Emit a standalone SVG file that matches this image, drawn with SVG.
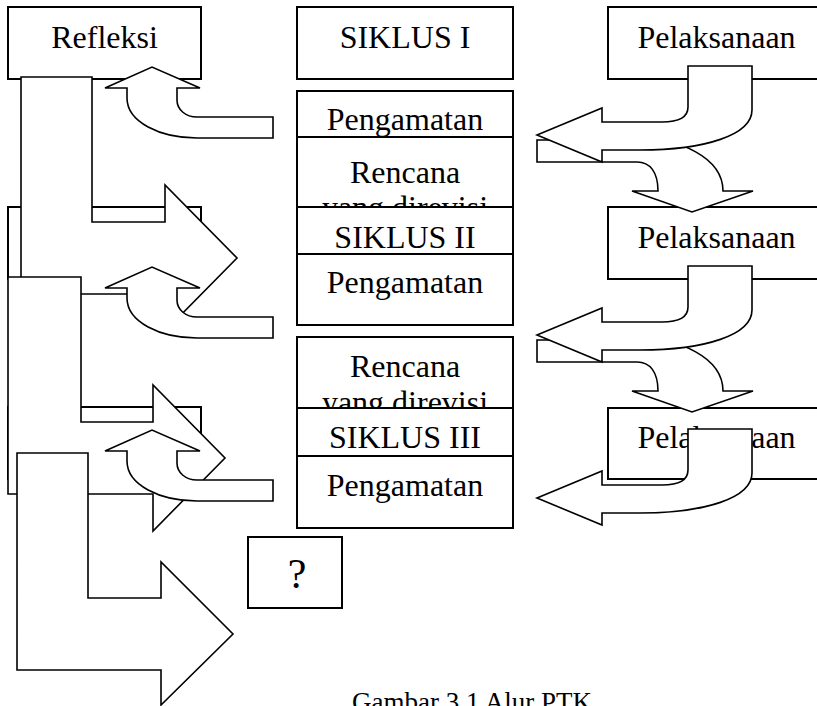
<svg xmlns="http://www.w3.org/2000/svg" width="817" height="706" viewBox="0 0 817 706">
<style>
.box{fill:#fff;stroke:#000;stroke-width:2}
.arr{fill:#fff;stroke:#000;stroke-width:1.6;stroke-linejoin:miter}
.t{font-family:"Liberation Serif","Times New Roman",serif;font-size:32px;fill:#000;text-anchor:middle}
</style>
<defs>
<path id="curvedUp" d="M273,117 L197,117 C186,117 177,110 177,100 L177,88 L200,88 L152,67 L105,88 L127,88 L127,98 C127,122 160,138 197,138 L273,138 Z"/>
<path id="curvedLeft" d="M688,66 L752,66 L752,110 C752,135 705,150 640,150 L602,150 L602,162 L537,135 L602,108 L602,122 L662,122 C680,122 688,117 688,107 Z"/>
<path id="curvedDown" d="M537,140 L537,162 L637,162 C650,162 658,172 658,191 L632,191 L692,212 L753,191 L723,191 C723,158 680,137 630,137 L602,140 Z"/>
</defs>
<rect width="817" height="706" fill="#fff"/>
<g id="nodes">
<g id="refleksi1"><rect class="box" x="8" y="7" width="193" height="72"/><text class="t" x="104.5" y="48">Refleksi</text></g>
<g id="refleksi2"><rect class="box" x="8" y="207" width="193" height="72"/></g>
<g id="refleksi3"><rect class="box" x="8" y="407" width="193" height="72"/></g>
<g id="siklus1"><rect class="box" x="297" y="7" width="216" height="72"/><text class="t" x="405" y="48">SIKLUS I</text></g>
<g id="pengamatan1"><rect class="box" x="297" y="91" width="216" height="70"/><text class="t" x="405" y="130">Pengamatan</text></g>
<g id="rencana1"><rect class="box" x="297" y="137" width="216" height="90"/><text class="t" x="405" y="183">Rencana</text><text class="t" x="405" y="218">yang direvisi</text></g>
<g id="siklus2"><rect class="box" x="297" y="207" width="216" height="60"/><text class="t" x="405" y="248">SIKLUS II</text></g>
<g id="pengamatan2"><rect class="box" x="297" y="254" width="216" height="71"/><text class="t" x="405" y="293">Pengamatan</text></g>
<g id="rencana2"><rect class="box" x="297" y="337" width="216" height="90"/><text class="t" x="405" y="377">Rencana</text><text class="t" x="405" y="413">yang direvisi</text></g>
<g id="siklus3"><rect class="box" x="297" y="408" width="216" height="60"/><text class="t" x="405" y="448">SIKLUS III</text></g>
<g id="pengamatan3"><rect class="box" x="297" y="456" width="216" height="72"/><text class="t" x="405" y="496">Pengamatan</text></g>
<g id="pelaksanaan1"><rect class="box" x="608" y="7" width="217" height="72"/><text class="t" x="716.5" y="48">Pelaksanaan</text></g>
<g id="pelaksanaan2"><rect class="box" x="608" y="207" width="217" height="72"/><text class="t" x="716.5" y="248">Pelaksanaan</text></g>
<g id="pelaksanaan3"><rect class="box" x="608" y="408" width="217" height="71"/><text class="t" x="716.5" y="448">Pelaksanaan</text></g>
<g id="tanya"><rect class="box" x="248" y="537" width="94" height="71"/><text class="t" x="297" y="588" style="font-size:42px">?</text></g>
</g>
<g id="connectors">
<path class="arr" d="M21,77 L92,77 L92,222 L165,222 L165,185 L237,258 L165,331 L165,294 L21,294 Z"/>
<path class="arr" d="M8,277 L81,277 L81,422 L153,422 L153,385 L225,458 L153,531 L153,494 L8,494 Z"/>
<path class="arr" d="M17,453 L88,453 L88,598 L161,598 L161,562 L233,634 L161,705 L161,670 L17,670 Z"/>
<use href="#curvedUp" class="arr"/>
<use href="#curvedUp" class="arr" transform="translate(0,200)"/>
<use href="#curvedUp" class="arr" transform="translate(0,363)"/>
<use href="#curvedDown" class="arr"/>
<use href="#curvedLeft" class="arr"/>
<use href="#curvedDown" class="arr" transform="translate(0,200)"/>
<use href="#curvedLeft" class="arr" transform="translate(0,200)"/>
<use href="#curvedLeft" class="arr" transform="translate(0,363)"/>
</g>
<text id="caption" class="t" x="472" y="711" style="font-size:27px">Gambar 3.1 Alur PTK</text>
</svg>
